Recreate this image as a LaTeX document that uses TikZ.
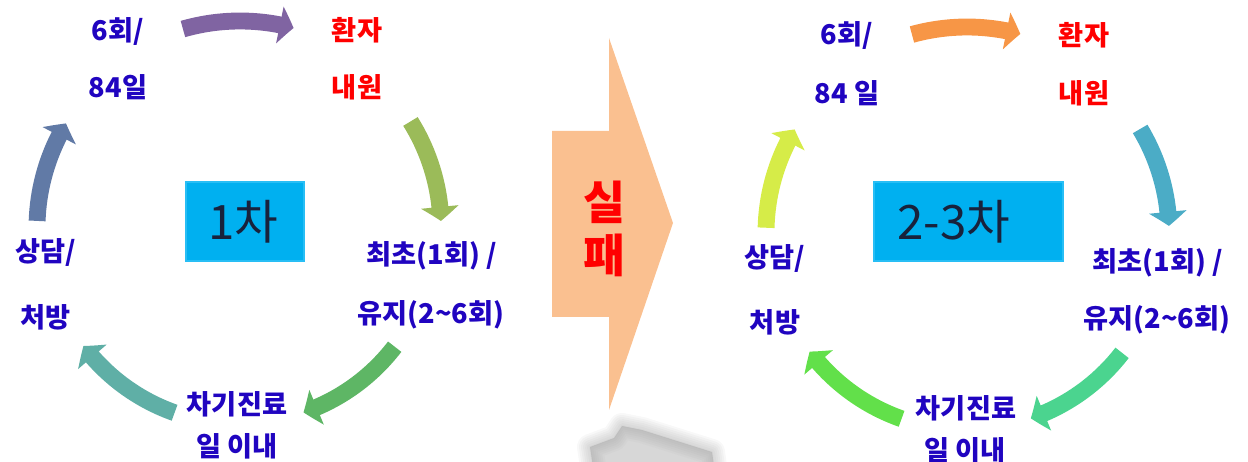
\documentclass[tikz,border=0pt]{standalone}
\usepackage{fontspec}
\setmainfont{Noto Sans CJK KR}
\usetikzlibrary{arrows.meta,bending}
\definecolor{txtblue}{RGB}{32,4,192}
\definecolor{txtred}{RGB}{255,0,0}
\definecolor{boxfill}{RGB}{0,176,240}
\definecolor{boxedge}{RGB}{40,190,245}
\definecolor{boxtext}{RGB}{24,34,60}
\definecolor{bigfill}{RGB}{250,192,144}
\definecolor{shadowgray}{RGB}{150,150,150}
\definecolor{aA}{RGB}{128,100,162}
\definecolor{aB}{RGB}{155,187,89}
\definecolor{aC}{RGB}{94,182,101}
\definecolor{aD}{RGB}{95,175,166}
\definecolor{aE}{RGB}{97,122,166}
\definecolor{bA}{RGB}{247,150,70}
\definecolor{bB}{RGB}{75,172,198}
\definecolor{bC}{RGB}{75,212,143}
\definecolor{bD}{RGB}{98,224,74}
\definecolor{bE}{RGB}{214,236,72}
\tikzset{
  lbl/.style={font=\bfseries\fontsize{15.5}{18}\selectfont, text=txtblue, inner sep=0pt},
  lblred/.style={lbl, text=txtred},
  carrow/.style={line width=9.6pt, -{Triangle[width=21pt,length=8pt,bend]}},
  stagebox/.style={fill=boxfill, draw=boxedge, line width=0.8pt},
  stagetext/.style={font=\fontsize{27}{30}\selectfont, text=boxtext, inner sep=0pt},
}
\begin{document}
\begin{tikzpicture}[x=0.02cm,y=0.02cm]
\useasboundingbox (0,0) rectangle (1248,-462);

% ---------- left cycle ----------
\coordinate (L) at (240,-228);
\draw[carrow, draw=aA] (L) ++(106:207) arc[start angle=106, end angle=75, radius=207];
\draw[carrow, draw=aB] (L) ++(32:201) arc[start angle=32, end angle=2, radius=201];
\draw[carrow, draw=aC] (L) ++(-37.5:195) arc[start angle=-37.5, end angle=-71, radius=195];
\draw[carrow, draw=aD] (L) ++(-109.5:196) arc[start angle=-109.5, end angle=-143, radius=196];
\draw[carrow, draw=aE] (L) ++(178:203) arc[start angle=178, end angle=149, radius=203];

\node[stagebox, minimum width=118*0.02cm, minimum height=79*0.02cm, inner sep=0pt] (box1) at (245,-221.5) {};
\node[stagetext] (t1) at (243,-222) {1차};

\node[lbl] (l1a) at (118,-32) {6회/};
\node[lbl] (l1b) at (118,-87) {84일};
\node[lblred] (l2a) at (357,-30) {환자};
\node[lblred] (l2b) at (357,-87) {내원};
\node[lbl] (l3a) at (432,-256) {최초(1회) /};
\node[lbl] (l3b) at (431,-315) {유지(2\textasciitilde 6회)};
\node[lbl] (l4a) at (237,-404) {차기진료};
\node[lbl] (l4b) at (237,-446) {일 이내};
\node[lbl] (l5a) at (46,-253) {상담/};
\node[lbl] (l5b) at (46,-317) {처방};

% ---------- big arrow with soft shadow ----------
\foreach \w in {26,22,18,14,10,6,2} {
  \filldraw[shadowgray, line width=\w*0.02cm, line join=round, opacity=0.065]
    (590,-447) -- (614,-438) -- (622,-426) -- (642,-430) -- (712,-452) -- (716,-480) -- (595,-480) -- cycle;
}
\fill[bigfill] (552,-131) -- (609,-131) -- (609,-38) -- (673,-223) -- (609,-410) -- (609,-317) -- (552,-317) -- cycle;
\node[font=\bfseries\fontsize{26}{30}\selectfont, text=txtred, align=center, inner sep=0pt] (fail) at (605,-229) {실\\패};

% ---------- right cycle ----------
\coordinate (R) at (967,-233);
\draw[carrow, draw=bA] (R) ++(105.5:206) arc[start angle=105.5, end angle=75, radius=206];
\draw[carrow, draw=bB] (R) ++(31:202) arc[start angle=31, end angle=2, radius=202];
\draw[carrow, draw=bC] (R) ++(-37.7:196) arc[start angle=-37.7, end angle=-71, radius=196];
\draw[carrow, draw=bD] (R) ++(-109.4:197) arc[start angle=-109.4, end angle=-143, radius=197];
\draw[carrow, draw=bE] (R) ++(178.5:201) arc[start angle=178.5, end angle=149, radius=201];

\node[stagebox, minimum width=189*0.02cm, minimum height=79*0.02cm, inner sep=0pt] (box2) at (968.5,-221.5) {};
\node[stagetext] (t2) at (954,-222) {2-3차};

\node[lbl] (r1a) at (847,-36) {6회/};
\node[lbl] (r1b) at (847,-93) {84 일};
\node[lblred] (r2a) at (1084,-35) {환자};
\node[lblred] (r2b) at (1084,-93) {내원};
\node[lbl] (r3a) at (1158,-263) {최초(1회) /};
\node[lbl] (r3b) at (1157,-320) {유지(2\textasciitilde 6회)};
\node[lbl] (r4a) at (966,-408) {차기진료};
\node[lbl] (r4b) at (965,-450) {일 이내};
\node[lbl] (r5a) at (775,-259) {상담/};
\node[lbl] (r5b) at (775,-322) {처방};
\end{tikzpicture}
\end{document}
